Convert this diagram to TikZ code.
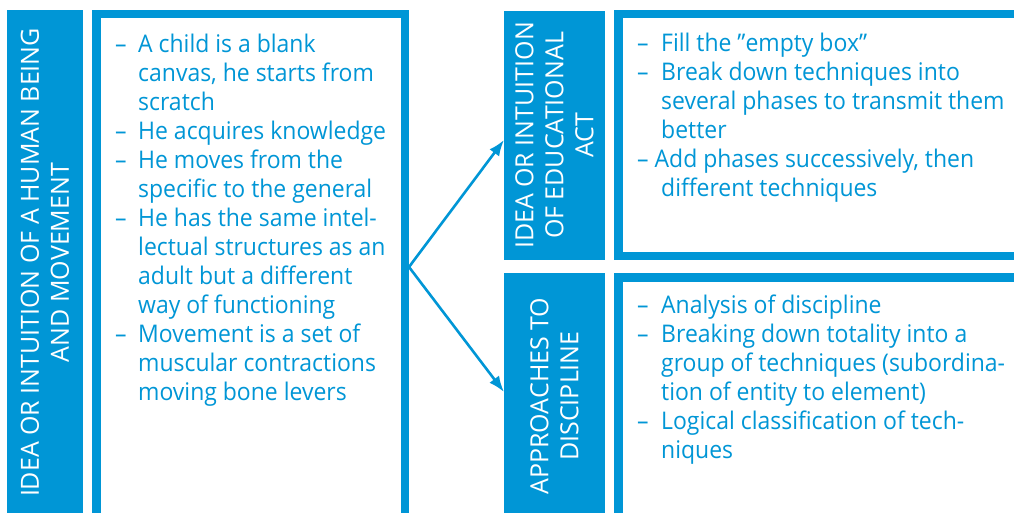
\documentclass[tikz,border=0pt]{standalone}
\usepackage{fontspec}
\setmainfont{Open Sans}[FakeStretch=0.945]
\newfontfamily\barfont{Open Sans}
\usetikzlibrary{arrows.meta,calc}
\definecolor{ublue}{RGB}{0,150,214}
\newcommand\dsh{\makebox[23pt][l]{–}}
\newcommand\dshb{\makebox[24pt][l]{–}}
\begin{document}
\begin{tikzpicture}[x=1pt,y=-1pt,
  bar/.style={fill=ublue, draw=none, inner sep=0pt, outer sep=0pt, anchor=north west},
  bartext/.style={text=white, rotate=90, align=center, inner sep=0pt, font=\barfont\fontsize{25}{30}\selectfont},
  frame/.style={draw=ublue, line width=8.5pt, inner sep=0pt, fill=white},
  itemtext/.style={text=ublue, anchor=base west, inner sep=0pt, font=\fontsize{24.3}{29}\selectfont},
  link/.style={draw=ublue, line width=2.6pt, -{Latex[length=16pt,width=12pt]}}
]
\useasboundingbox (0,0) rectangle (1014,513);
\clip (0,0) rectangle (1014,513);
\fill[white] (0,0) rectangle (1014,513);

% left column
\node[bar, minimum width=76pt, minimum height=503pt] (leftbar) at (7,10) {};
\node[bartext] (lefttext) at ($(leftbar.center)+(0,1)$) {IDEA OR INTUITION OF A HUMAN BEING\\AND MOVEMENT};
\node[frame, minimum width=308.5pt, minimum height=505.5pt] (leftbox) at (250.5,267) {};
\node[itemtext] (leftitems) at (115,53) {%
\begin{tabular}[t]{@{}l@{}l@{}}
\dsh & A child is a blank\\
 & canvas, he starts from\\
 & scratch\\
\dsh & He acquires knowledge\\
\dsh & He moves from the\\
 & specific to the general\\
\dsh & He has the same intel-\\
 & lectual structures as an\\
 & adult but a different\\
 & way of functioning\\
\dsh & Movement is a set of\\
 & muscular contractions\\
 & moving bone levers
\end{tabular}};

% top right
\node[bar, minimum width=101pt, minimum height=249pt] (topbar) at (504,11) {};
\node[bartext] (toptext) at (topbar.center) {IDEA OR INTUITION\\OF EDUCATIONAL\\ACT};
\node[frame, minimum width=411.5pt, minimum height=242pt] (topbox) at (824.25,135) {};
\node[itemtext] (topitems) at (637,52) {%
\begin{tabular}[t]{@{}l@{}l@{}}
\dshb & Fill the ”empty box”\\
\dshb & Break down techniques into\\
 & several phases to transmit them\\
 & better\\
\multicolumn{2}{@{}l@{}}{– Add phases successively, then}\\
 & different techniques
\end{tabular}};

% bottom right
\node[bar, minimum width=101pt, minimum height=240pt] (botbar) at (504,273) {};
\node[bartext] (bottext) at ($(botbar.center)+(0,3)$) {APPROACHES TO\\DISCIPLINE};
\node[frame, minimum width=411.5pt, minimum height=252.5pt] (botbox) at (824.25,403.75) {};
\node[itemtext] (botitems) at (637,313) {%
\begin{tabular}[t]{@{}l@{}l@{}}
\dshb & Analysis of discipline\\
\dshb & Breaking down totality into a\\
 & group of techniques (subordina-\\
 & tion of entity to element)\\
\dshb & Logical classification of tech-\\
 & niques
\end{tabular}};

% connectors
\draw[link] (leftbox.east) -- ($(topbar.west)+(0,4.5)$);
\draw[link] (leftbox.east) -- ($(botbar.west)+(0,-1)$);
\end{tikzpicture}
\end{document}
